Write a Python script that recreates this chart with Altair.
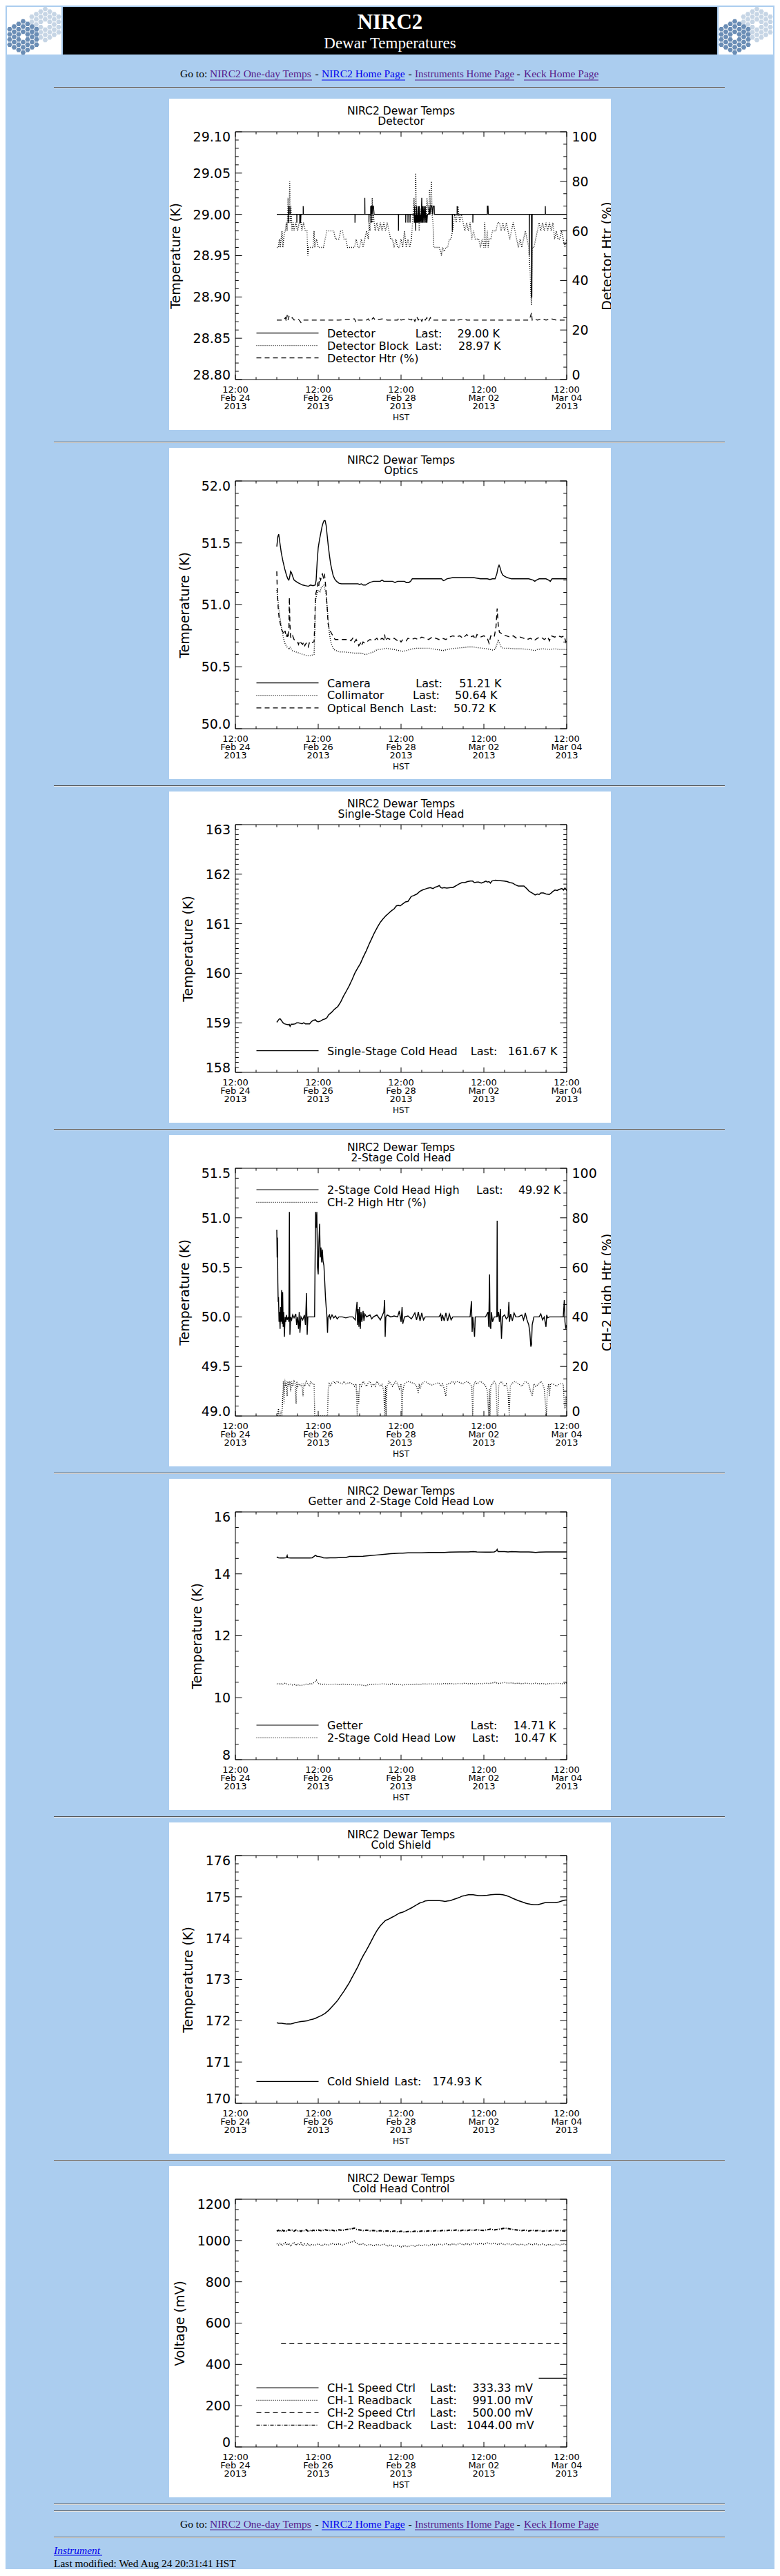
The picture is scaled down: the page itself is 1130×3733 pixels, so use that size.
import math
import altair as alt
import pandas as pd

# ---------------- page styling ----------------
BLUE = "#abcdef"
PURPLE = "#551a8b"
LINKBLUE = "#0000ee"
FONT = "DejaVu Sans"
SERIF = "Liberation Serif"

CW = 1114          # chart width (page minus body margins)
PW, PH = 480, 359  # IDL plot region
PX = 333           # left edge of plot region inside the chart
ONE = pd.DataFrame({"k": [0]})

DOT = [1, 2]
DASH = [7, 5]
DASHDOT = [5, 2, 1, 2]

# ---------------- shared x axis: hours since 2013-02-24 12:00 HST ----------------
X_MAJOR = [0, 48, 96, 144, 192]
X_LAB1 = ["12:00", "12:00", "12:00", "12:00", "12:00"]
X_LAB2 = ["Feb 24", "Feb 26", "Feb 28", "Mar 02", "Mar 04"]
X_LAB3 = ["2013", "2013", "2013", "2013", "2013"]
X_MINOR = [12, 24, 36, 60, 72, 84, 108, 120, 132, 156, 168, 180]

# ---------------- panel 1: Detector ----------------
DETECTOR = [(24, 29.0),
    (30.6, 29.0), (30.6, 28.99), (30.7, 29.01), (30.8, 29.0),
    (31.6, 29.0), (31.6, 29.01), (31.8, 29.0),
    (35.6, 29.0), (35.6, 28.99), (35.7, 29.0),
    (37.3, 29.0), (37.3, 28.99), (37.5, 28.99), (37.6, 29.0), (37.8, 29.0), (37.8, 28.99), (38.0, 29.0),
    (39.3, 29.0), (39.3, 29.01), (39.4, 29.0),
    (69.3, 29.0), (69.3, 28.99), (69.4, 29.0),
    (75.0, 29.0), (75.0, 29.02), (75.1, 29.0),
    (77.4, 29.0), (77.4, 28.99), (77.5, 29.0),
    (78.4, 29.0), (78.4, 29.01), (78.6, 28.99), (78.8, 29.01), (79.0, 29.01), (79.2, 29.0), (79.6, 29.01), (80.0, 29.01), (80.4, 29.0),
    (94.5, 29.0), (94.5, 28.98), (94.6, 29.0),
    (98.7, 29.0), (98.7, 28.99), (98.8, 29.0),
    (100.0, 29.0), (100.0, 28.99), (100.1, 29.0),
    (101.2, 29.0), (101.2, 28.99), (101.3, 29.0),
    (103.6, 29.0), (103.7, 28.99), (103.9, 29.01), (104.1, 28.99), (104.3, 29.0), (104.5, 28.98), (104.6, 29.0),
    (104.8, 28.99), (105.0, 29.01), (105.2, 28.99), (105.5, 29.0), (105.7, 28.99), (106.0, 29.01), (106.3, 28.99),
    (106.6, 29.01), (106.9, 28.99), (107.2, 29.0), (107.6, 28.99), (108.0, 29.02), (108.2, 28.99), (108.5, 29.01),
    (108.8, 28.99), (109.2, 29.01), (109.6, 28.99), (110.0, 29.01), (110.4, 28.99), (110.8, 29.0), (111.0, 28.99), (111.3, 29.0),
    (112.3, 29.0), (112.3, 29.01), (112.8, 29.0), (113.2, 29.01), (113.8, 29.01), (114.2, 29.0), (114.6, 29.01), (115.2, 29.01), (115.3, 29.0),
    (125.7, 29.0), (125.7, 28.98), (125.8, 29.0),
    (128.5, 29.0), (128.5, 29.01), (128.6, 29.0),
    (137.6, 29.0), (137.6, 28.99), (137.7, 29.0),
    (146.0, 29.0), (146.0, 29.01), (146.4, 29.01), (146.6, 29.0),
    (170.3, 29.0), (170.3, 28.95), (170.4, 29.0),
    (171.6, 29.0), (171.6, 28.9), (171.8, 28.9), (172.0, 29.0),
    (179.6, 29.0), (179.6, 29.01), (179.7, 29.0),
    (192, 29.0)]

DET_BLOCK = [(24, 28.96), (25, 28.96), (25.5, 28.97), (26, 28.96), (26.5, 28.97), (27, 28.98), (27.5, 28.96), (28, 28.97),
    (28.5, 28.98), (29, 28.98), (29.5, 28.99), (30, 28.98), (30.5, 29.02), (31, 28.99), (31.5, 29.04), (31.8, 28.99),
    (32.3, 29.01), (32.8, 28.98), (33.5, 28.99), (34, 28.98), (35, 28.99), (36, 28.98), (37, 28.99), (38, 28.99),
    (38.5, 28.98), (39.5, 28.99), (40.5, 28.98), (41.5, 28.98), (42, 28.95), (42.3, 28.96), (44, 28.96), (45, 28.96),
    (45.6, 28.98), (46, 28.96), (47, 28.97), (48, 28.96), (50, 28.96), (51, 28.96), (52, 28.97), (53, 28.98), (55, 28.98),
    (57, 28.98), (58, 28.97), (60, 28.97), (61, 28.98), (62, 28.98), (63, 28.97), (64, 28.97), (65, 28.96), (67, 28.96),
    (69, 28.96), (70, 28.97), (71, 28.96), (72, 28.96), (73, 28.97), (74, 28.96), (75, 28.97), (76, 28.98), (77, 28.97),
    (77.5, 28.99), (78, 28.98), (78.5, 29.0), (79, 28.99), (79.3, 29.02), (79.6, 28.99), (80, 29.0), (81, 28.98),
    (82, 28.99), (83, 28.98), (84, 28.99), (85, 28.98), (86, 28.99), (87, 28.98), (88, 28.99), (89, 28.98), (90, 28.97),
    (91, 28.97), (92, 28.96), (93, 28.97), (94, 28.96), (95, 28.96), (96, 28.97), (97, 28.96), (98, 28.98), (99, 28.96),
    (100, 28.97), (101, 28.96), (102, 28.97), (103, 29.0), (103.5, 29.02), (104, 28.99), (104.5, 29.05), (105, 28.99),
    (105.5, 29.0), (106, 29.01), (106.5, 28.98), (107, 29.0), (108, 29.01), (108.5, 28.99), (109, 29.0), (110, 29.01),
    (110.5, 28.99), (111, 29.02), (112, 29.0), (112.5, 29.03), (113, 29.01), (113.6, 29.04), (114, 29.0), (114.5, 28.99),
    (115, 28.96), (116, 28.96), (117, 28.96), (118, 28.96), (119, 28.955), (119.4, 28.95), (120, 28.96), (121, 28.955),
    (122, 28.96), (123, 28.96), (124, 28.97), (125, 28.97), (125.8, 28.98), (126.5, 28.99), (127, 29.0), (128, 28.99),
    (129, 29.01), (130, 28.99), (131, 29.0), (132, 28.99), (133, 28.98), (134, 28.99), (135, 28.98), (136, 28.99),
    (137, 28.97), (138, 28.98), (139, 28.97), (140, 28.97), (141, 28.97), (142, 28.96), (143, 28.97), (144, 28.96),
    (144.5, 28.99), (145, 28.96), (146, 28.98), (146.5, 28.96), (147, 28.97), (148, 28.97), (149, 28.98), (150, 28.98),
    (151, 28.98), (152, 28.99), (153, 28.99), (154, 28.98), (155, 28.99), (156, 28.98), (157, 28.99), (158, 28.98),
    (159, 28.97), (160, 28.98), (161, 28.99), (162, 28.98), (163, 28.97), (164, 28.96), (165, 28.97), (166, 28.96),
    (167, 28.97), (168, 28.98), (169, 28.97), (170, 28.96), (170.5, 28.94), (171, 28.92), (171.5, 28.89), (171.8, 28.93),
    (172, 28.96), (173, 28.96), (174, 28.97), (175, 28.98), (176, 28.99), (177, 28.98), (178, 28.99), (179, 28.98),
    (180, 28.99), (181, 28.98), (182, 28.99), (183, 28.98), (184, 28.99), (185, 28.97), (186, 28.98), (187, 28.97),
    (188, 28.97), (189, 28.98), (190, 28.97), (191, 28.96), (192, 28.97)]

DET_HTR = [(24, 24), (28, 24), (29, 25), (29.5, 23.5), (30, 26), (30.5, 24), (31, 25.5), (32, 24.5), (33, 25), (34, 24),
    (36, 24.5), (37, 24), (38, 23), (39, 24), (44, 24), (60, 24), (69, 24.5), (70, 23), (71, 24), (76, 24), (77, 24.5),
    (78, 23.5), (80, 25), (81, 24), (85, 24.5), (88, 24), (94, 24), (95, 25), (96, 24), (100, 24.5), (102, 24), (103, 25),
    (104, 23.5), (105, 25.5), (106, 24), (107, 25), (108, 23.5), (109, 25), (110, 24), (111, 25), (112, 23.5), (113, 25),
    (114, 24), (118, 24), (127, 24), (128, 24.5), (129, 24), (133, 24.5), (134, 24), (140, 24), (150, 24), (160, 24),
    (170, 24), (171, 25.5), (171.6, 27), (172, 24), (173, 24.5), (175, 24), (178, 24.5), (180, 24), (183, 24.5),
    (186, 24), (190, 24), (192, 24)]

# ---------------- panel 2: Optics ----------------
CAMERA = [(24, 51.47), (24.6, 51.55), (25.1, 51.57), (25.8, 51.5), (26.6, 51.42), (27.6, 51.35), (28.6, 51.29),
    (29.6, 51.24), (30.4, 51.21), (31.0, 51.2), (31.4, 51.22), (32.0, 51.27), (32.5, 51.26), (33.2, 51.23), (34.0, 51.2),
    (35.0, 51.19), (36.0, 51.18), (37.4, 51.17), (39.0, 51.16), (40.5, 51.155), (42.3, 51.15), (43.5, 51.16),
    (45.0, 51.155), (46.3, 51.16), (46.8, 51.2), (47.4, 51.35), (48.0, 51.46), (48.8, 51.53), (49.5, 51.58),
    (50.2, 51.63), (50.8, 51.66), (51.4, 51.68), (52.0, 51.68), (52.6, 51.64), (53.2, 51.56), (53.8, 51.48),
    (54.5, 51.4), (55.2, 51.33), (55.8, 51.29), (56.6, 51.24), (57.5, 51.21), (58.6, 51.19), (60.0, 51.175),
    (61.5, 51.17), (63, 51.17), (66, 51.17), (69, 51.17), (71, 51.17), (72, 51.165), (73, 51.17), (74, 51.16),
    (75.5, 51.16), (76.5, 51.17), (78, 51.18), (80, 51.19), (84, 51.19), (85, 51.2), (86, 51.19), (88, 51.19),
    (91, 51.19), (92.5, 51.18), (94, 51.19), (96, 51.19), (98, 51.19), (99, 51.18), (100.5, 51.18), (101.5, 51.19),
    (102.5, 51.21), (106, 51.21), (110, 51.21), (114, 51.21), (118, 51.21), (119.5, 51.21), (120.5, 51.195),
    (121.5, 51.2), (122.5, 51.21), (126, 51.22), (130, 51.22), (134, 51.22), (138, 51.22), (142, 51.21), (146, 51.21),
    (147.5, 51.205), (149, 51.21), (150.5, 51.21), (151.5, 51.25), (152.2, 51.3), (152.8, 51.32), (153.4, 51.3),
    (154.2, 51.26), (155.0, 51.24), (156, 51.23), (157.5, 51.22), (160, 51.21), (165, 51.21), (170, 51.21),
    (172.5, 51.2), (173.5, 51.19), (174.5, 51.2), (176, 51.21), (178, 51.21), (180, 51.21), (181.5, 51.2),
    (182.5, 51.19), (183.5, 51.21), (186, 51.21), (190, 51.21), (192, 51.21)]

COLLIMATOR = [(24, 51.12), (24.5, 51.06), (25, 51.0), (25.8, 50.9), (26.8, 50.81), (27.6, 50.75), (28.4, 50.7),
    (29.4, 50.67), (30.4, 50.65), (31.2, 50.64), (31.6, 50.66), (32.1, 50.65), (33, 50.63), (35, 50.62), (37, 50.61),
    (39, 50.6), (41.5, 50.59), (43.5, 50.59), (45.6, 50.6), (46.0, 50.75), (46.4, 51.02), (47.0, 51.08), (48.0, 51.12),
    (49.0, 51.1), (49.8, 51.14), (50.5, 51.15), (51.3, 51.16), (52.0, 51.12), (52.6, 51.08), (53.2, 50.98),
    (53.8, 50.88), (54.5, 50.77), (55.3, 50.7), (56.0, 50.67), (57.0, 50.64), (58.5, 50.63), (60, 50.62), (63, 50.62),
    (66, 50.615), (69, 50.61), (72.5, 50.61), (74, 50.605), (75, 50.6), (76, 50.6), (78, 50.61), (80, 50.62),
    (82.3, 50.64), (84, 50.64), (86, 50.645), (87, 50.65), (89, 50.645), (92, 50.64), (95, 50.63), (97, 50.625),
    (99, 50.63), (101, 50.64), (103, 50.645), (105, 50.65), (108, 50.65), (112, 50.65), (116, 50.64), (119, 50.635),
    (120, 50.63), (121.5, 50.635), (124.7, 50.645), (128, 50.65), (132, 50.655), (135, 50.66), (137.8, 50.66),
    (140, 50.655), (143, 50.65), (146, 50.645), (147.6, 50.64), (149, 50.635), (150.5, 50.64), (151.5, 50.68),
    (152.3, 50.72), (153, 50.69), (154, 50.66), (155, 50.65), (158, 50.65), (162, 50.645), (166, 50.645), (170, 50.64),
    (172, 50.635), (173.5, 50.63), (175, 50.64), (178, 50.645), (182, 50.64), (185, 50.645), (188, 50.64), (192, 50.64)]

OPT_BENCH = [(24, 51.27), (24.3, 51.1), (24.8, 50.98), (25.3, 50.9), (26, 50.85), (26.8, 50.8), (27.6, 50.78),
    (28.2, 50.76), (28.8, 50.79), (29.4, 50.74), (30, 50.76), (30.6, 50.73), (31.0, 50.8), (31.3, 51.06), (31.6, 50.85),
    (32, 50.74), (32.6, 50.73), (33.2, 50.75), (34, 50.72), (35, 50.71), (36, 50.7), (36.6, 50.68), (37.2, 50.71),
    (38.2, 50.69), (39, 50.68), (39.6, 50.7), (40.2, 50.67), (41, 50.69), (41.5, 50.68), (42.2, 50.66), (43, 50.7),
    (44, 50.69), (45, 50.7), (45.6, 50.7), (46.0, 50.85), (46.4, 51.08), (47.2, 51.12), (47.8, 51.18), (48.3, 51.15),
    (48.8, 51.22), (49.4, 51.2), (50.0, 51.24), (50.4, 51.25), (51, 51.22), (51.6, 51.25), (52, 51.2), (52.6, 51.1),
    (53.2, 50.98), (53.7, 50.85), (54.5, 50.8), (55.3, 50.78), (56.5, 50.75), (57.8, 50.72), (60, 50.72), (63, 50.72),
    (66, 50.72), (67, 50.71), (68, 50.73), (69, 50.7), (70, 50.72), (71, 50.69), (71.5, 50.67), (72.5, 50.69),
    (73, 50.67), (74, 50.7), (75, 50.69), (76, 50.7), (77, 50.71), (78, 50.72), (80, 50.71), (81, 50.72), (82, 50.73),
    (83, 50.71), (85, 50.73), (86, 50.72), (86.5, 50.76), (87, 50.71), (88, 50.73), (90, 50.72), (92, 50.73),
    (94, 50.71), (95, 50.72), (96, 50.7), (97, 50.72), (99, 50.71), (100, 50.73), (102, 50.72), (104, 50.73),
    (106, 50.72), (108, 50.74), (110, 50.73), (112, 50.72), (114, 50.74), (116, 50.73), (118, 50.72), (120, 50.73),
    (122, 50.72), (124, 50.74), (126, 50.75), (128, 50.74), (130, 50.75), (132, 50.73), (134, 50.76), (136, 50.74),
    (138, 50.75), (139, 50.72), (140, 50.76), (142, 50.74), (144, 50.75), (146, 50.73), (147, 50.69), (148, 50.75),
    (150, 50.74), (151, 50.82), (151.7, 50.97), (152.3, 50.84), (153, 50.78), (154, 50.77), (155, 50.76), (157, 50.75),
    (159, 50.74), (161, 50.75), (163, 50.73), (165, 50.74), (167, 50.73), (169, 50.72), (171, 50.73), (173, 50.71),
    (175, 50.73), (177, 50.74), (179, 50.72), (181, 50.74), (182, 50.71), (183, 50.75), (185, 50.74), (187, 50.75),
    (189, 50.74), (190.5, 50.75), (191.5, 50.7), (192, 50.72)]

# ---------------- panel 3: Single-Stage Cold Head ----------------
SINGLE_STAGE = [(24, 159.01), (24.8, 159.05), (25.5, 159.08), (26, 159.08), (26.8, 159.04), (27.6, 159.0),
    (28.4, 158.98), (29.5, 158.97), (30.5, 158.96), (31.2, 158.97), (31.7, 158.93), (32.3, 158.97), (33.5, 158.97),
    (34.8, 158.98), (35.5, 159.0), (36.6, 159.0), (37.8, 158.99), (38.6, 158.98), (39.6, 159.0), (40.6, 158.98),
    (41.6, 158.98), (43, 158.98), (44, 159.02), (45, 159.05), (46.4, 159.06), (47.2, 159.03), (48, 159.02),
    (49, 159.03), (50.5, 159.06), (52, 159.08), (53, 159.1), (54, 159.16), (55, 159.19), (56, 159.22), (57, 159.26),
    (58, 159.29), (59.4, 159.33), (61, 159.42), (62.7, 159.54), (64.3, 159.64), (66, 159.75), (67.6, 159.87),
    (69.2, 160.0), (70.8, 160.1), (72.5, 160.2), (74, 160.32), (75.8, 160.45), (77.4, 160.58), (79, 160.7),
    (80.6, 160.82), (82.3, 160.93), (84, 161.03), (85.6, 161.1), (87.2, 161.16), (88.8, 161.21), (90.4, 161.26),
    (92, 161.3), (93.3, 161.36), (94.5, 161.37), (95.5, 161.36), (97, 161.4), (98.6, 161.44), (100, 161.45),
    (101, 161.5), (101.9, 161.55), (103.5, 161.57), (105.2, 161.6), (106.8, 161.65), (108.4, 161.68), (110, 161.7),
    (111.7, 161.72), (113, 161.73), (114.5, 161.71), (116, 161.74), (117, 161.75), (118.2, 161.77), (119, 161.73),
    (119.8, 161.72), (121, 161.73), (122.5, 161.72), (124.7, 161.73), (126, 161.73), (127, 161.75), (128, 161.77),
    (129.5, 161.8), (131.3, 161.83), (133, 161.83), (134.5, 161.85), (136.2, 161.86), (137.5, 161.86), (138.5, 161.83),
    (140, 161.84), (141, 161.84), (142.5, 161.82), (144, 161.84), (145.2, 161.86), (146, 161.84), (147, 161.85),
    (147.8, 161.82), (148.6, 161.86), (149.5, 161.87), (150.8, 161.88), (152, 161.87), (153.5, 161.87),
    (155.7, 161.86), (157.5, 161.85), (159, 161.83), (160.6, 161.82), (162, 161.79), (163.9, 161.76), (165.5, 161.76),
    (167.2, 161.76), (168.8, 161.71), (170.4, 161.65), (172, 161.62), (173.7, 161.58), (175, 161.6), (176, 161.59),
    (177, 161.62), (178.5, 161.62), (180, 161.6), (181.9, 161.59), (183, 161.62), (184, 161.65), (185.2, 161.68),
    (186.5, 161.67), (187.5, 161.69), (189.2, 161.71), (190.2, 161.68), (191, 161.72), (192, 161.67)]

# ---------------- panel 4: 2-Stage Cold Head ----------------
CH2_HIGH = [(24, 50.88), (24.2, 50.6), (24.4, 50.8), (24.6, 50.35), (24.8, 50.15), (25.0, 50.2), (25.3, 49.95),
    (25.6, 50.05), (25.9, 49.88), (26.2, 50.1), (26.5, 49.95), (26.8, 50.27), (27.1, 49.93), (27.4, 50.25), (27.7, 49.9),
    (28.0, 50.05), (28.4, 49.8), (28.8, 50.0), (29.2, 49.95), (29.6, 50.02), (30.0, 49.97), (30.6, 50.0), (31.0, 49.95),
    (31.3, 51.06), (31.6, 49.82), (32.0, 50.0), (32.6, 49.97), (33.2, 50.02), (34.0, 49.99), (35.0, 50.03),
    (35.5, 49.92), (36.0, 50.0), (36.6, 49.88), (37.0, 50.05), (37.4, 49.84), (38, 50.0), (39, 49.97), (40, 50.02),
    (40.6, 49.92), (41.2, 50.24), (41.6, 49.82), (42, 50.0), (43, 50.0), (44, 50.0), (45.5, 50.0), (45.9, 50.0),
    (46.2, 50.59), (46.5, 51.06), (46.8, 50.9), (47.2, 51.06), (47.6, 50.5), (48.0, 50.43), (48.4, 50.75),
    (48.8, 50.94), (49.2, 50.6), (49.6, 50.7), (50.0, 50.55), (50.4, 50.68), (50.8, 50.56), (51.3, 50.52),
    (51.8, 50.35), (52.2, 50.2), (52.6, 50.1), (53.0, 50.02), (53.4, 49.84), (53.7, 50.0), (54.5, 50.02), (55, 49.98),
    (56, 50.02), (57, 49.99), (58, 50.01), (59, 49.98), (60, 50.0), (62, 50.0), (64, 49.99), (66, 50.0), (68, 50.0),
    (69.5, 49.97), (70.0, 50.06), (70.5, 50.15), (70.8, 49.92), (71.2, 50.08), (71.6, 49.9), (72.0, 50.1),
    (72.4, 49.88), (72.8, 50.05), (73.3, 49.95), (74, 50.06), (74.5, 49.96), (75, 50.03), (76, 50.0), (78, 50.02),
    (79, 49.98), (80, 50.0), (82, 50.02), (84, 49.97), (86, 50.05), (86.5, 50.17), (86.8, 49.8), (87.2, 50.0),
    (88, 50.02), (90, 50.0), (92, 50.01), (94, 50.0), (95, 50.06), (96, 49.95), (96.6, 50.1), (97, 49.93), (98, 50.0),
    (100, 50.01), (102, 49.98), (104, 50.04), (105, 49.97), (106, 50.05), (107, 49.96), (108, 50.04), (109, 49.97),
    (110, 50.0), (112, 50.0), (114, 50.0), (116, 50.0), (118, 50.0), (119, 50.03), (119.5, 49.96), (120, 50.02),
    (121, 49.96), (122, 50.04), (123, 49.96), (124, 50.03), (125, 49.97), (126, 50.0), (128, 50.0), (130, 50.0),
    (132, 50.0), (134, 50.0), (136, 50.0), (136.8, 50.16), (137.2, 49.85), (137.6, 50.0), (138.6, 49.8), (139, 50.0),
    (140, 50.0), (142, 50.0), (144, 50.0), (145, 50.0), (146.4, 50.05), (146.8, 49.9), (147.3, 50.43), (147.6, 49.9),
    (148, 49.88), (148.4, 50.05), (149, 49.95), (150, 50.0), (151, 50.0), (151.5, 50.0), (151.7, 50.97), (151.9, 50.0),
    (152.5, 50.05), (153, 49.95), (153.6, 50.08), (154.2, 49.78), (154.8, 50.0), (156, 50.02), (157, 49.98),
    (158, 50.0), (158.5, 50.15), (158.8, 49.95), (159.5, 50.03), (160.5, 49.96), (161.5, 50.04), (162.5, 50.0),
    (164, 50.0), (166, 50.02), (167, 49.97), (168, 50.04), (169, 49.97), (170, 49.92), (170.6, 49.85), (171.2, 49.7),
    (171.6, 49.72), (172, 49.92), (173, 50.0), (174, 50.0), (176, 50.0), (177, 50.03), (178, 49.97), (179, 50.0),
    (180, 49.9), (180.4, 50.02), (181, 49.99), (182, 50.0), (184, 50.0), (186, 50.0), (188, 50.0), (190, 50.0),
    (190.6, 50.17), (191, 49.95), (191.5, 49.88), (192, 49.92)]

CH2_HTR = [(24.5, 0), (25, 3), (25.3, 0), (26, 0), (26.5, 2), (27, 0), (27.8, 14), (28.2, 5), (28.6, 15), (29, 12),
    (29.5, 14), (30, 8), (30.4, 14), (31, 12), (31.6, 14), (32, 10), (32.6, 14), (33.2, 12), (34, 14), (34.6, 13),
    (35.2, 5), (35.6, 14), (36.2, 12), (37, 13), (38, 12), (38.6, 13), (39.2, 8), (39.6, 13), (40.2, 12), (41, 14),
    (42, 13), (43, 12), (43.6, 14), (44.2, 13), (45, 13), (45.6, 13), (46, 0), (46.5, 0), (50, 0), (52, 0), (53.4, 0),
    (53.8, 11), (54.4, 13), (55, 12), (56, 13.5), (57, 14), (58, 13), (59, 14), (60, 13.5), (62, 13), (63, 14),
    (64, 13), (66, 13.5), (68, 13), (69, 12), (70, 13), (70.6, 0), (71, 10), (71.5, 5), (72, 13), (73, 12), (74, 14),
    (75, 13), (76, 12), (77, 13.5), (78, 14), (79, 12), (80, 13), (81, 12), (82, 14), (83, 13), (84, 12), (85, 13),
    (86, 10), (86.5, 0), (87, 12), (87.3, 0), (87.8, 12), (88.5, 13), (89, 14), (90, 13), (91, 12), (92, 13), (93, 14),
    (94, 13), (95, 11), (96, 13), (96.6, 0), (97, 10), (97.5, 12), (98, 13), (100, 14), (102, 13.5), (104, 13),
    (105, 12), (106, 9), (106.5, 13), (107, 11), (108, 13), (110, 14), (112, 13), (114, 12.5), (116, 13), (118, 13.5),
    (119, 12), (120, 13), (121, 11), (122, 8), (122.6, 13), (124, 13), (126, 14), (127, 13), (128, 14), (130, 13.5),
    (132, 13), (134, 14), (136, 13), (137, 12), (137.5, 0), (138, 12), (139, 14), (140, 13), (142, 14), (144, 13),
    (145, 12), (146, 10), (146.8, 0), (147.2, 11), (147.5, 0), (148, 12), (149, 13), (150, 14), (151, 13), (151.7, 0),
    (152.2, 0), (152.6, 12), (153, 13), (154, 14), (155, 13), (156, 12), (157, 13), (158, 10), (158.7, 0), (159.3, 12),
    (160, 13), (162, 14), (164, 13), (166, 12), (167, 13), (168, 14), (170, 13), (171, 10), (172, 8), (173, 13),
    (174, 12), (176, 13), (177, 14), (178, 13), (179, 11), (180.2, 0), (180.8, 10), (181.5, 13), (182, 8), (182.6, 13),
    (184, 13), (186, 12), (188, 13), (190, 13), (190.6, 5), (191, 3), (191.6, 8), (192, 4)]

# ---------------- panel 5: Getter and 2-Stage Cold Head Low ----------------
GETTER = [(24, 14.55), (24.5, 14.53), (25, 14.52), (26, 14.51), (28, 14.51), (29.5, 14.52), (30, 14.59), (30.3, 14.52),
    (32, 14.51), (35, 14.51), (38, 14.51), (41, 14.51), (43, 14.51), (44.5, 14.52), (45.5, 14.56), (46.4, 14.6),
    (47.2, 14.57), (48.5, 14.56), (50, 14.54), (51, 14.52), (53, 14.51), (55, 14.52), (58, 14.52), (62, 14.53),
    (64, 14.53), (65.5, 14.55), (66, 14.56), (70, 14.56), (74, 14.57), (78, 14.59), (82, 14.61), (86, 14.63),
    (90, 14.65), (92, 14.66), (95, 14.67), (97, 14.67), (100, 14.68), (104, 14.68), (108, 14.68), (112, 14.69),
    (116, 14.69), (121, 14.69), (124, 14.7), (130, 14.71), (135, 14.71), (137.8, 14.72), (140, 14.71), (145, 14.7),
    (147.5, 14.7), (150, 14.71), (151.2, 14.74), (151.7, 14.79), (152.2, 14.72), (154, 14.72), (156, 14.72),
    (158, 14.71), (160, 14.72), (165, 14.71), (170, 14.71), (172, 14.7), (174, 14.69), (176, 14.7), (180, 14.71),
    (185, 14.71), (192, 14.71)]

CH2_LOW = [(24, 10.45), (25, 10.44), (26, 10.46), (27, 10.43), (28, 10.45), (29, 10.47), (30, 10.44), (31, 10.42),
    (32, 10.44), (33, 10.41), (34, 10.43), (35, 10.4), (36, 10.42), (37, 10.39), (38, 10.41), (39, 10.4), (40, 10.42),
    (41, 10.44), (42, 10.43), (43, 10.45), (44, 10.44), (45, 10.47), (46, 10.5), (46.9, 10.57), (47.5, 10.5),
    (48, 10.46), (49, 10.45), (50, 10.43), (52, 10.44), (54, 10.42), (56, 10.43), (58, 10.44), (60, 10.42), (62, 10.44),
    (64, 10.43), (66, 10.42), (68, 10.43), (70, 10.41), (72, 10.42), (74, 10.4), (75.8, 10.39), (77, 10.42),
    (79, 10.43), (81, 10.44), (83, 10.43), (85, 10.45), (87, 10.44), (89, 10.43), (91, 10.45), (93, 10.42), (95, 10.43),
    (97, 10.41), (99, 10.43), (101, 10.42), (103, 10.43), (105, 10.44), (107, 10.43), (109, 10.45), (111, 10.44),
    (113, 10.45), (115, 10.44), (117, 10.45), (119, 10.44), (121, 10.46), (123, 10.45), (125, 10.46), (127, 10.44),
    (129, 10.46), (131, 10.45), (133, 10.47), (135, 10.45), (137, 10.46), (139, 10.44), (141, 10.46), (143, 10.45),
    (145, 10.47), (147, 10.46), (149, 10.48), (150.5, 10.5), (152, 10.46), (154, 10.47), (156, 10.49), (158, 10.47),
    (160, 10.48), (162, 10.46), (164, 10.47), (166, 10.45), (168, 10.47), (170, 10.46), (172, 10.45), (174, 10.47),
    (176, 10.45), (178, 10.46), (180, 10.44), (182, 10.46), (184, 10.45), (186, 10.47), (188, 10.46), (190, 10.45),
    (192, 10.48)]

# ---------------- panel 6: Cold Shield ----------------
COLD_SHIELD = [(24, 171.95), (25, 171.94), (26.8, 171.94), (28, 171.93), (30, 171.92), (31.7, 171.92), (33, 171.93),
    (34.5, 171.95), (36.6, 171.97), (38, 171.98), (40, 171.99), (42, 172.0), (43, 172.02), (45, 172.04), (46.5, 172.06),
    (48, 172.09), (50, 172.13), (52, 172.18), (54, 172.25), (56, 172.34), (58, 172.43), (59.4, 172.5), (61, 172.6),
    (62.7, 172.7), (64.5, 172.82), (66, 172.92), (67.5, 173.04), (69.2, 173.17), (71, 173.31), (72.5, 173.45),
    (74, 173.57), (75.8, 173.7), (77.5, 173.83), (79, 173.95), (80.5, 174.07), (82.3, 174.2), (84, 174.3),
    (85.6, 174.37), (87, 174.43), (88.8, 174.46), (90.5, 174.5), (92, 174.53), (93.5, 174.57), (95.2, 174.61),
    (97, 174.63), (98.6, 174.66), (100, 174.69), (101.9, 174.73), (103.5, 174.77), (105.2, 174.81), (106.8, 174.85),
    (108.4, 174.87), (110, 174.9), (111.7, 174.91), (114, 174.91), (116, 174.91), (118.2, 174.91), (120, 174.9),
    (121.5, 174.89), (123, 174.9), (124.7, 174.91), (126.5, 174.94), (128, 174.96), (130, 174.99), (131.5, 175.02),
    (132.9, 175.03), (135, 175.05), (137.8, 175.05), (139.5, 175.04), (141, 175.03), (143, 175.03), (146, 175.04),
    (148, 175.05), (150.9, 175.06), (153, 175.06), (155, 175.05), (157, 175.03), (159, 175.0), (161, 174.96),
    (163.9, 174.91), (166, 174.88), (168.8, 174.84), (171, 174.82), (172.9, 174.81), (175.3, 174.81), (177, 174.83),
    (179.4, 174.86), (182, 174.86), (185.2, 174.86), (187, 174.87), (189.2, 174.9), (191, 174.92), (192, 174.92)]

# ---------------- panel 7: Cold Head Control ----------------
CH1_SPEED = [(175.8, 333.33), (192, 333.33)]
CH2_SPEED = [(26.5, 500), (192, 500)]
CH2_READ = [(24, 1045), (25, 1050), (26, 1043), (27, 1052), (28, 1046), (29, 1049), (30, 1044), (31, 1053), (32, 1047),
    (33, 1050), (34, 1045), (35, 1051), (36, 1046), (37, 1049), (38, 1044), (39, 1050), (40, 1047), (41, 1052),
    (42, 1046), (43, 1049), (44, 1045), (45, 1050), (46, 1048), (48, 1051), (50, 1047), (52, 1052), (54, 1048),
    (56, 1050), (58, 1046), (60, 1052), (62, 1049), (64, 1053), (66, 1055), (68, 1058), (69, 1060), (70, 1054),
    (72, 1051), (74, 1048), (76, 1050), (78, 1047), (80, 1049), (82, 1045), (84, 1048), (86, 1044), (88, 1047),
    (90, 1043), (92, 1046), (94, 1042), (96, 1045), (98, 1041), (100, 1044), (102, 1042), (104, 1045), (106, 1043),
    (108, 1046), (110, 1044), (112, 1047), (114, 1045), (116, 1048), (118, 1046), (120, 1049), (122, 1047),
    (124, 1050), (126, 1048), (128, 1051), (130, 1047), (132, 1050), (134, 1048), (136, 1051), (138, 1049),
    (140, 1052), (142, 1050), (144, 1049), (146, 1052), (148, 1055), (150, 1051), (152, 1054), (154, 1056),
    (156, 1060), (158, 1058), (160, 1054), (162, 1052), (164, 1050), (166, 1048), (168, 1051), (170, 1046),
    (172, 1050), (174, 1047), (176, 1049), (178, 1045), (180, 1048), (182, 1046), (184, 1050), (186, 1047),
    (188, 1049), (190, 1046), (192, 1044)]
CH1_READ = [(24, 985), (25, 978), (26, 988), (27, 975), (28, 983), (29, 990), (30, 978), (31, 986), (32, 972), (33, 984),
    (34, 991), (35, 976), (36, 985), (37, 979), (38, 989), (39, 974), (40, 983), (41, 977), (42, 986), (43, 973),
    (44, 981), (46, 977), (48, 984), (50, 975), (52, 982), (54, 978), (56, 986), (58, 980), (60, 984), (62, 978),
    (64, 985), (66, 990), (68, 995), (69, 998), (70, 988), (72, 980), (74, 984), (76, 976), (78, 982), (80, 974),
    (82, 981), (84, 977), (86, 983), (88, 973), (90, 979), (92, 971), (94, 976), (96, 969), (98, 975), (100, 970),
    (102, 977), (104, 972), (106, 979), (108, 974), (110, 980), (112, 975), (114, 982), (116, 977), (118, 983),
    (120, 979), (122, 985), (124, 978), (126, 984), (128, 980), (130, 986), (132, 979), (134, 985), (136, 980),
    (138, 987), (140, 981), (142, 986), (144, 982), (146, 988), (148, 983), (150, 987), (152, 981), (154, 986),
    (156, 980), (158, 985), (160, 979), (162, 984), (164, 978), (166, 983), (168, 977), (170, 984), (172, 979),
    (174, 985), (176, 978), (178, 983), (180, 977), (182, 982), (184, 976), (186, 983), (188, 978), (190, 984),
    (192, 980)]

# ---------------- page text ----------------
GOTO = [("Go to:", 253, "black", None, 15.5), ("NIRC2 One-day Temps", 296, PURPLE, 444, 15.5),
        ("NIRC2 Home Page", 458, LINKBLUE, 579, 15.5), ("Instruments Home Page", 593, PURPLE, 737, 15),
        ("Keck Home Page", 751, PURPLE, 859, 15.5)]
GOTO_DASH_X = [451, 586, 743]


# ---------------- helpers ----------------
def xscale():
    return alt.Scale(domain=[0, 192], nice=False, zero=False)


def yscale(dom):
    return alt.Scale(domain=dom, nice=False, zero=False)


def vrect(x, x2, y, y2, **kw):
    return alt.Chart(ONE).mark_rect(**kw).encode(
        x=alt.value(x), x2=alt.value(x2), y=alt.value(y), y2=alt.value(y2))


def hline(x, x2, y, color="black", width=1, dash=None):
    kw = dict(color=color, strokeWidth=width)
    if dash:
        kw["strokeDash"] = dash
    return alt.Chart(ONE).mark_rule(**kw).encode(x=alt.value(x), x2=alt.value(x2), y=alt.value(y))


def vtext(s, x, y, size, font=FONT, align="left", color="black", angle=None, weight=None, style=None):
    kw = dict(text=s, font=font, fontSize=size, align=align, baseline="alphabetic", color=color)
    if angle is not None:
        kw["angle"] = angle
    if weight:
        kw["fontWeight"] = weight
    if style:
        kw["fontStyle"] = style
    return alt.Chart(ONE).mark_text(**kw).encode(x=alt.value(x), y=alt.value(y))


def hr_layers(y, dx):
    return [hline(70 - dx, 1042 - dx, y + 0.5, color="#555555"),
            hline(70 - dx, 1042 - dx, y + 1.5, color="#e2e2e2")]


def goto_layers(yb, yu, dx):
    out = []
    for s, x, col, x2, fs in GOTO:
        out.append(vtext(s, x - dx, yb, fs, font=SERIF, color=col))
        if x2 is not None:
            out.append(hline(x - dx, x2 - dx, yu, color=col))
    for x in GOTO_DASH_X:
        out.append(vtext("-", x - dx, yb, 15.5, font=SERIF, align="center"))
    return out


def subdivide(major, n):
    out = []
    for a, b in zip(major[:-1], major[1:]):
        for k in range(1, n):
            out.append(a + (b - a) * k / n)
    return out


def with_y(chart, dom, rdom=None):
    """Right-axis values (percent) are mapped onto the left scale by a Vega-Lite transform."""
    if rdom:
        lo, hi = dom
        rlo, rhi = rdom
        return chart.transform_calculate(
            yy=f"{lo} + (datum.v - {rlo}) * ({hi} - {lo}) / ({rhi} - {rlo})")
    return chart.transform_calculate(yy="datum.v")


def series_layer(pts, dom, dash=None, width=1.2, rdom=None):
    df = pd.DataFrame(pts, columns=["h", "v"])
    df["i"] = range(len(df))
    kw = dict(color="black", strokeWidth=width, clip=True)
    if dash:
        kw["strokeDash"] = dash
    return with_y(alt.Chart(df), dom, rdom).mark_line(**kw).encode(
        x=alt.X("h:Q", scale=xscale(), axis=None),
        y=alt.Y("yy:Q", scale=yscale(dom), axis=None),
        order=alt.Order("i:Q"))


def ytick_layer(vals, dom, side, length, rdom=None):
    df = pd.DataFrame({"v": vals})
    x0, x1 = (0, length) if side == "left" else (PW, PW - length)
    return with_y(alt.Chart(df), dom, rdom).mark_rule(color="black", strokeWidth=1).encode(
        y=alt.Y("yy:Q", scale=yscale(dom), axis=None), x=alt.value(x0), x2=alt.value(x1))


def tick_labels(vals, texts, dom, side, rdom=None):
    """IDL keeps the end labels inside the axis: top one hangs below, bottom one sits above."""
    out = []
    x = -7 if side == "left" else PW + 7.5
    align = "right" if side == "left" else "left"
    groups = [([vals[-1]], [texts[-1]], 13.8), ([vals[0]], [texts[0]], 0.0), (vals[1:-1], texts[1:-1], 6.9)]
    for vs, ts, dy in groups:
        df = pd.DataFrame({"v": vs, "t": ts})
        out.append(with_y(alt.Chart(df), dom, rdom).mark_text(
            font=FONT, fontSize=19, align=align, baseline="alphabetic", dy=dy, color="black").encode(
            y=alt.Y("yy:Q", scale=yscale(dom), axis=None), x=alt.value(x), text="t:N"))
    return out


def xtick_layer(vals, side, length):
    df = pd.DataFrame({"h": vals})
    y0, y1 = (PH, PH - length) if side == "bottom" else (0, length)
    return alt.Chart(df).mark_rule(color="black", strokeWidth=1).encode(
        x=alt.X("h:Q", scale=xscale(), axis=None), y=alt.value(y0), y2=alt.value(y1))


XLAB = pd.DataFrame({"h": X_MAJOR, "a": X_LAB1, "b": X_LAB2, "c": X_LAB3})


def xlabel_layer(col, y):
    return alt.Chart(XLAB).mark_text(font=FONT, fontSize=13, align="center", baseline="alphabetic",
                                     color="black").encode(
        x=alt.X("h:Q", scale=xscale(), axis=None), y=alt.value(y), text=alt.Text(f"{col}:N"))


# ---------------- panel definitions ----------------
# series entries: (points, dash, axis side, stroke width)
PANELS = [
    dict(sub="Detector", dom=[28.80, 29.10], major=[28.80, 28.85, 28.90, 28.95, 29.00, 29.05, 29.10], n=5,
         labels=["28.80", "28.85", "28.90", "28.95", "29.00", "29.05", "29.10"],
         ytitle="Temperature (K)", ytx=-80.5,
         rdom=[0, 100], rmajor=[0, 20, 40, 60, 80, 100], rn=4,
         rlabels=["0", "20", "40", "60", "80", "100"], rtitle="Detector Htr (%)",
         series=[(DET_BLOCK, DOT, "L", 1.4), (DET_HTR, DASH, "R", 1.2), (DETECTOR, None, "L", 1.3)],
         legend=[(291.7, None, "Detector", 299.4, "29.00 K", 383),
                 (309.7, DOT, "Detector Block", 299.4, "28.97 K", 384.5),
                 (327.7, DASH, "Detector Htr (%)", None, None, None)],
         cell=(-65, 441, -65)),
    dict(sub="Optics", dom=[50.0, 52.0], major=[50.0, 50.5, 51.0, 51.5, 52.0], n=5,
         labels=["50.0", "50.5", "51.0", "51.5", "52.0"],
         ytitle="Temperature (K)", ytx=-67,
         series=[(COLLIMATOR, DOT, "L", 1.4), (OPT_BENCH, DASH, "L", 1.4), (CAMERA, None, "L", 1.4)],
         legend=[(292.7, None, "Camera", 300, "51.21 K", 385.6),
                 (310.6, DOT, "Collimator", 295.8, "50.64 K", 379.5),
                 (328.9, DASH, "Optical Bench", 291.8, "50.72 K", 377.5)],
         cell=(-65, 433, -57)),
    dict(sub="Single-Stage Cold Head", dom=[158, 163], major=[158, 159, 160, 161, 162, 163], n=10,
         labels=["158", "159", "160", "161", "162", "163"],
         ytitle="Temperature (K)", ytx=-61.7,
         series=[(SINGLE_STAGE, None, "L", 1.5)],
         legend=[(327.7, None, "Single-Stage Cold Head", 379.5, "161.67 K", 466.4)],
         cell=(-65, 433, -57)),
    dict(sub="2-Stage Cold Head", dom=[49.0, 51.5], major=[49.0, 49.5, 50.0, 50.5, 51.0, 51.5], n=5,
         labels=["49.0", "49.5", "50.0", "50.5", "51.0", "51.5"],
         ytitle="Temperature (K)", ytx=-67,
         rdom=[0, 100], rmajor=[0, 20, 40, 60, 80, 100], rn=4,
         rlabels=["0", "20", "40", "60", "80", "100"], rtitle="CH-2 High Htr (%)",
         series=[(CH2_HTR, DOT, "R", 1.4), (CH2_HIGH, None, "L", 1.4)],
         legend=[(31, None, "2-Stage Cold Head High", 387.7, "49.92 K", 471.3),
                 (49.3, DOT, "CH-2 High Htr (%)", None, None, None)],
         cell=(-65, 433, -57)),
    dict(sub="Getter and 2-Stage Cold Head Low", dom=[8, 16], major=[8, 10, 12, 14, 16], n=4,
         labels=["8", "10", "12", "14", "16"],
         ytitle="Temperature (K)", ytx=-49.5,
         series=[(CH2_LOW, DOT, "L", 1.4), (GETTER, None, "L", 1.5)],
         legend=[(309, None, "Getter", 379.5, "14.71 K", 464),
                 (327.3, DOT, "2-Stage Cold Head Low", 381.6, "10.47 K", 465)],
         cell=(-65, 433, -57)),
    dict(sub="Cold Shield", dom=[170, 176], major=[170, 171, 172, 173, 174, 175, 176], n=5,
         labels=["170", "171", "172", "173", "174", "175", "176"],
         ytitle="Temperature (K)", ytx=-61.7,
         series=[(COLD_SHIELD, None, "L", 1.5)],
         legend=[(327.3, None, "Cold Shield", 269.3, "174.93 K", 357)],
         cell=(-65, 433, -57)),
    dict(sub="Cold Head Control", dom=[0, 1200], major=[0, 200, 400, 600, 800, 1000, 1200], n=4,
         labels=["0", "200", "400", "600", "800", "1000", "1200"],
         ytitle="Voltage (mV)", ytx=-74,
         series=[(CH1_READ, DOT, "L", 1.6), (CH2_SPEED, DASH, "L", 1.2), (CH2_READ, DASHDOT, "L", 2.0),
                 (CH1_SPEED, None, "L", 1.2)],
         legend=[(273.3, None, "CH-1 Speed Ctrl", 320.5, "333.33 mV", 431),
                 (291.3, DOT, "CH-1 Readback", 321, "991.00 mV", 431),
                 (309.3, DASH, "CH-2 Speed Ctrl", 320.5, "500.00 mV", 431),
                 (327.3, DASHDOT, "CH-2 Readback", 321, "1044.00 mV", 432.6)],
         cell=(-65, 433, -57)),
]


def build_panel(cfg):
    L = []
    top, bot, hry = cfg["cell"]
    L.append(vrect(-PX, CW - PX, top, bot, fill=BLUE, strokeWidth=0))
    L += hr_layers(hry, PX)
    L.append(vrect(-96, 544, -48, 432, fill="white", strokeWidth=0))
    dom = cfg["dom"]
    rdom = cfg.get("rdom")
    for pts, dash, side, w in cfg["series"]:
        L.append(series_layer(pts, dom, dash, width=w, rdom=rdom if side == "R" else None))
    major = cfg["major"]
    minor = subdivide(major, cfg["n"])
    L.append(ytick_layer(major, dom, "left", 9.6))
    L.append(ytick_layer(minor, dom, "left", 4.8))
    L += tick_labels(major, cfg["labels"], dom, "left")
    if rdom:
        rmaj = cfg["rmajor"]
        rmin = subdivide(rmaj, cfg["rn"])
        L.append(ytick_layer(rmaj, dom, "right", 9.6, rdom=rdom))
        L.append(ytick_layer(rmin, dom, "right", 4.8, rdom=rdom))
        L += tick_labels(rmaj, cfg["rlabels"], dom, "right", rdom=rdom)
    else:
        L.append(ytick_layer(major, dom, "right", 9.6))
        L.append(ytick_layer(minor, dom, "right", 4.8))
    for side in ("bottom", "top"):
        L.append(xtick_layer(X_MAJOR, side, 7.2))
        L.append(xtick_layer(X_MINOR, side, 3.6))
    L.append(vrect(0, PW, 0, PH, filled=False, stroke="black", strokeWidth=1))
    for yc, dash, name, lx, val, vx in cfg["legend"]:
        L.append(hline(30.5, 120.5, yc, width=1.2, dash=dash))
        L.append(vtext(name, 133, yc + 5.8, 16))
        if lx is not None:
            L.append(vtext("Last:", lx, yc + 5.8, 16, align="right"))
            L.append(vtext(val, vx, yc + 5.8, 16, align="right"))
    L.append(vtext("NIRC2 Dewar Temps", PW / 2, -25, 15.5, align="center"))
    L.append(vtext(cfg["sub"], PW / 2, -10.3, 15.5, align="center"))
    for col, y in (("a", 377.9), ("b", 390.4), ("c", 402.2)):
        L.append(xlabel_layer(col, y))
    L.append(vtext("HST", PW / 2, 418.1, 12, align="center"))
    L.append(vtext(cfg["ytitle"], cfg["ytx"], 180, 19, align="center", angle=270))
    if cfg.get("rtitle"):
        L.append(vtext(cfg["rtitle"], 544.5, 180, 19, align="center", angle=270))
        L.append(vrect(544, CW - PX, -48, 432, fill=BLUE, strokeWidth=0))
    return alt.layer(*L).properties(width=PW, height=PH)


# ---------------- header (origin aligned with the plot regions) ----------------
HEX_PATH = "M-1,0L-0.5,-0.866L0.5,-0.866L1,0L0.5,0.866L-0.5,0.866Z"
HEX_Q, HEX_R = [], []
for q in range(-3, 4):
    for r in range(-3, 4):
        if max(abs(q), abs(r), abs(q + r)) <= 3 and (q, r) != (0, 0):
            HEX_Q.append(q)
            HEX_R.append(r)
RG = 4.33
HH = 118


def hex_layer(cx, cy, color):
    xs = [cx + 1.5 * RG * q for q in HEX_Q]
    ys = [cy + math.sqrt(3) * RG * (r + q / 2) for q, r in zip(HEX_Q, HEX_R)]
    df = pd.DataFrame({"x": xs, "y": ys})
    return alt.Chart(df).mark_point(shape=HEX_PATH, filled=True, size=56, color=color, opacity=1,
                                    strokeWidth=0).encode(
        x=alt.X("x:Q", scale=alt.Scale(domain=[0, CW], range=[-PX, CW - PX], nice=False, zero=False),
                axis=None),
        y=alt.Y("y:Q", scale=alt.Scale(domain=[0, HH], nice=False, zero=False, reverse=True), axis=None))


header_layers = [vrect(-PX, CW - PX, 0, HH, fill=BLUE, strokeWidth=0),
                 vrect(2 - PX, 81 - PX, 2, 71, fill="white", strokeWidth=0),
                 vrect(1033 - PX, 1112 - PX, 2, 71, fill="white", strokeWidth=0),
                 vrect(83 - PX, 1031 - PX, 2, 71, fill="black", strokeWidth=0)]
for off in (0, 1031):
    header_layers.append(hex_layer(57.5 + off, 27.5, "#c6d5e5"))
    header_layers.append(hex_layer(25.5 + off, 45.4, "#6a8db5"))
header_layers += [vtext("NIRC2", CW / 2 - PX, 33.7, 31, font=SERIF, align="center", color="white", weight="bold"),
                  vtext("Dewar Temperatures", CW / 2 - PX, 62, 23, font=SERIF, align="center", color="white")]
header_layers += goto_layers(104.3, 108, PX)
header = alt.layer(*header_layers).properties(width=PW, height=HH)

# ---------------- footer ----------------
FH = 100
footer_layers = [vrect(-PX, CW - PX, 0, FH, fill=BLUE, strokeWidth=0)]
footer_layers += hr_layers(8, PX) + hr_layers(18, PX) + hr_layers(56, PX)
footer_layers += goto_layers(43.3, 46, PX)
footer_layers += [vtext("Instrument", 70 - PX, 80.7, 15.5, font=SERIF, color=LINKBLUE, style="italic"),
                  hline(70 - PX, 140 - PX, 83, color=LINKBLUE),
                  vtext("Last modified: Wed Aug 24 20:31:41 HST", 70 - PX, 99.5, 15.5, font=SERIF)]
footer = alt.layer(*footer_layers).properties(width=PW, height=FH)

cells = [header] + [build_panel(p) for p in PANELS] + [footer]
chart = alt.vconcat(*cells, spacing=0).properties(padding=0, background=BLUE).configure_view(strokeWidth=0)

chart.save("out.html", embed_options={"renderer": "svg", "actions": False})
